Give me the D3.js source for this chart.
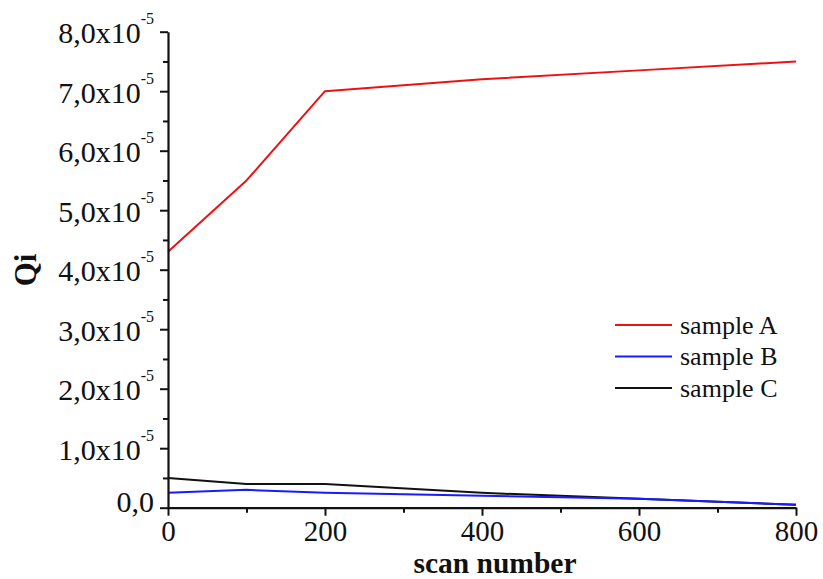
<!DOCTYPE html>
<html>
<head>
<meta charset="utf-8">
<script src="https://cdn.jsdelivr.net/npm/d3@7"></script>
<style>
  html, body { margin: 0; padding: 0; background: #fff; }
  svg { display: block; }
  text { font-family: "Liberation Serif", "Times New Roman", serif; fill: #111; }
</style>
</head>
<body>
<svg id="chart" width="823" height="579"></svg>
<script>
// scan numbers and Qi values (in units of 1e-5)
const scans = [0, 100, 200, 400, 600, 800];
const sampleA = [4.3, 5.5, 7.0, 7.2, 7.35, 7.5];
const sampleB = [0.25, 0.3, 0.25, 0.2, 0.15, 0.05];
const sampleC = [0.5, 0.4, 0.4, 0.25, 0.15, 0.05];
const seriesNames = ["sample A", "sample B", "sample C"];
const seriesColors = ["#ee1111", "#1a1aff", "#111111"];
const xTicks = [0, 200, 400, 600, 800];
const yTicks = [0, 1, 2, 3, 4, 5, 6, 7, 8];

const svg = d3.select("#chart");
const x = d3.scaleLinear().domain([0, 800]).range([168, 796]);
const y = d3.scaleLinear().domain([0, 8]).range([507.7, 31.7]);

const series = [sampleA, sampleB, sampleC].map((vals, i) => ({
  name: seriesNames[i], color: seriesColors[i],
  points: scans.map((s, j) => [s, vals[j]])
}));

// lines
const line = d3.line().x(d => x(d[0])).y(d => y(d[1]));
svg.append("g").selectAll("path").data(series.slice().reverse()).join("path")
  .attr("d", d => line(d.points))
  .attr("fill", "none")
  .attr("stroke", d => d.color)
  .attr("stroke-width", 2)
  .attr("stroke-linejoin", "round");

// axes
function styleAxis(g) {
  g.select(".domain").attr("stroke", "#111").attr("stroke-width", 2.2);
  g.selectAll(".tick line").attr("stroke", "#111").attr("stroke-width", 2);
}

// minor ticks
const xMinor = d3.range(100, 800, 200);
const yMinor = d3.range(0.5, 8, 1);
svg.append("g").attr("transform", "translate(0,507.7)")
  .call(d3.axisBottom(x).tickValues(xMinor).tickSize(5).tickFormat(""))
  .call(g => g.select(".domain").remove())
  .call(g => g.selectAll(".tick line").attr("stroke", "#111").attr("stroke-width", 2));
svg.append("g").attr("transform", "translate(168,0)")
  .call(d3.axisLeft(y).tickValues(yMinor).tickSize(5).tickFormat(""))
  .call(g => g.select(".domain").remove())
  .call(g => g.selectAll(".tick line").attr("stroke", "#111").attr("stroke-width", 2));

const xAxis = svg.append("g").attr("transform", "translate(0,507.7)")
  .call(d3.axisBottom(x).tickValues(xTicks).tickSize(8).tickSizeOuter(0).tickFormat(""))
  .call(styleAxis);
xAxis.selectAll(".tick").append("text")
  .attr("y", 33)
  .attr("text-anchor", "middle")
  .attr("font-size", 29)
  .attr("fill", "#111")
  .text(d => d);

const yAxis = svg.append("g").attr("transform", "translate(168,0)")
  .call(d3.axisLeft(y).tickValues(yTicks).tickSize(8).tickSizeOuter(0).tickFormat(""))
  .call(styleAxis);
yAxis.selectAll(".tick").each(function(d) {
  const t = d3.select(this).append("text")
    .attr("text-anchor", "end")
    .attr("font-size", 30)
    .attr("fill", "#111")
    .attr("x", -14);
  if (d === 0) {
    t.attr("y", 4).text("0,0");
  } else {
    t.attr("y", 11);
    t.append("tspan").text(d3.format(".1f")(d).replace(".", ",") + "x10");
    t.append("tspan").attr("font-size", 16).attr("dy", -19).text("-5");
  }
});

// axis titles
svg.append("text")
  .attr("x", 495).attr("y", 572.5)
  .attr("text-anchor", "middle")
  .attr("font-size", 29.5).attr("font-weight", "bold")
  .text("scan number");
svg.append("text")
  .attr("transform", "translate(36,270) rotate(-90)")
  .attr("text-anchor", "middle")
  .attr("font-size", 31).attr("font-weight", "bold")
  .text("Qi");

// legend
const legend = svg.append("g").attr("transform", "translate(615,325)");
const rows = legend.selectAll("g").data(series).join("g")
  .attr("transform", (d, i) => `translate(0,${i * 31.5})`);
rows.append("line").attr("x1", 0).attr("x2", 57).attr("y1", 0).attr("y2", 0)
  .attr("stroke", d => d.color).attr("stroke-width", 2);
rows.append("text").attr("x", 65).attr("y", 8.5)
  .attr("font-size", 26).attr("fill", "#111")
  .text(d => d.name);
</script>
</body>
</html>
